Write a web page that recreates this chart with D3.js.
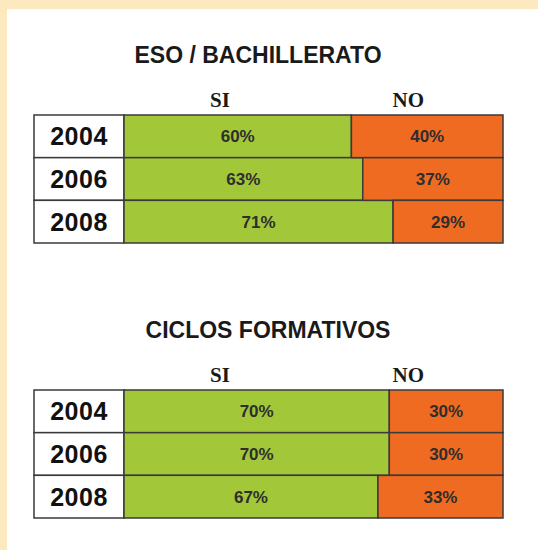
<!DOCTYPE html>
<html>
<head>
<meta charset="utf-8">
<script src="https://cdn.jsdelivr.net/npm/d3@7"></script>
<style>
  body { margin: 0; background: #fde9c0; }
  svg { display: block; }
</style>
</head>
<body>
<div id="chart"></div>
<script>
// data
const years = ['2004', '2006', '2008'];
const esoSi = [60, 63, 71];
const esoNo = [40, 37, 29];
const ciclosSi = [70, 70, 67];
const ciclosNo = [30, 30, 33];
const headers = ['SI', 'NO'];

const width = 538;
const height = 550;

const svg = d3.select('#chart').append('svg')
  .attr('width', width)
  .attr('height', height);

// white panel over the beige page
svg.append('rect')
  .attr('x', 7).attr('y', 9)
  .attr('width', width - 7).attr('height', height - 9)
  .attr('fill', '#ffffff');

// Function to draw one table of stacked bars
function drawTable(title, siValues, noValues, top, titleX, titleY) {
  const labelLeft = 34;
  const barLeft = 124;
  const barRight = 503;
  const tableBottom = top + 128;

  const xScale = d3.scaleLinear().domain([0, 100]).range([barLeft, barRight]);
  const yScale = d3.scaleBand().domain(years).range([top, tableBottom]);

  const g = svg.append('g');

  // title
  g.append('text')
    .attr('x', titleX)
    .attr('y', titleY)
    .attr('text-anchor', 'middle')
    .attr('font-family', 'Liberation Sans, Arial, sans-serif')
    .attr('font-weight', 'bold')
    .attr('font-size', '23px')
    .attr('fill', '#1a1a1a')
    .text(title);

  // SI / NO column headers
  const headerX = [xScale(25.3), xScale(75)];
  g.selectAll('text.header')
    .data(headers)
    .enter()
    .append('text')
    .attr('class', 'header')
    .attr('x', (d, i) => headerX[i])
    .attr('y', top - 8)
    .attr('text-anchor', 'middle')
    .attr('font-family', 'Liberation Serif, Times New Roman, serif')
    .attr('font-weight', 'bold')
    .attr('font-size', '21px')
    .attr('fill', '#1a1a1a')
    .text(d => d);

  const rows = years.map((y, i) => ({ year: y, si: siValues[i], no: noValues[i] }));

  // year cells
  g.selectAll('rect.year')
    .data(rows)
    .enter()
    .append('rect')
    .attr('class', 'year')
    .attr('x', labelLeft)
    .attr('y', d => yScale(d.year))
    .attr('width', barLeft - labelLeft)
    .attr('height', yScale.bandwidth())
    .attr('fill', '#ffffff')
    .attr('stroke', '#3a3a3a')
    .attr('stroke-width', 1.5);

  g.selectAll('text.year')
    .data(rows)
    .enter()
    .append('text')
    .attr('class', 'year')
    .attr('x', (labelLeft + barLeft) / 2)
    .attr('y', d => yScale(d.year) + yScale.bandwidth() / 2 + 9)
    .attr('text-anchor', 'middle')
    .attr('font-family', 'Liberation Sans, Arial, sans-serif')
    .attr('font-weight', 'bold')
    .attr('font-size', '25px')
    .attr('letter-spacing', '0.5px')
    .attr('fill', '#111111')
    .text(d => d.year);

  // SI bars
  g.selectAll('rect.si')
    .data(rows)
    .enter()
    .append('rect')
    .attr('class', 'si')
    .attr('x', xScale(0))
    .attr('y', d => yScale(d.year))
    .attr('width', d => xScale(d.si) - xScale(0))
    .attr('height', yScale.bandwidth())
    .attr('fill', '#a2c739')
    .attr('stroke', '#3a3a3a')
    .attr('stroke-width', 1.5);

  // NO bars
  g.selectAll('rect.no')
    .data(rows)
    .enter()
    .append('rect')
    .attr('class', 'no')
    .attr('x', d => xScale(d.si))
    .attr('y', d => yScale(d.year))
    .attr('width', d => xScale(100) - xScale(d.si))
    .attr('height', yScale.bandwidth())
    .attr('fill', '#f06b22')
    .attr('stroke', '#3a3a3a')
    .attr('stroke-width', 1.5);

  // percent labels
  const labelStyle = sel => sel
    .attr('text-anchor', 'middle')
    .attr('font-family', 'Liberation Sans, Arial, sans-serif')
    .attr('font-weight', 'bold')
    .attr('font-size', '17px')
    .attr('fill', '#2e2e2e');

  g.selectAll('text.si')
    .data(rows)
    .enter()
    .append('text')
    .attr('class', 'si')
    .attr('x', d => (xScale(0) + xScale(d.si)) / 2)
    .attr('y', d => yScale(d.year) + yScale.bandwidth() / 2 + 6)
    .call(labelStyle)
    .text(d => d.si + '%');

  g.selectAll('text.no')
    .data(rows)
    .enter()
    .append('text')
    .attr('class', 'no')
    .attr('x', d => (xScale(d.si) + xScale(100)) / 2)
    .attr('y', d => yScale(d.year) + yScale.bandwidth() / 2 + 6)
    .call(labelStyle)
    .text(d => d.no + '%');
}

drawTable('ESO / BACHILLERATO', esoSi, esoNo, 115, 258, 63);
drawTable('CICLOS FORMATIVOS', ciclosSi, ciclosNo, 390, 268, 338);
</script>
</body>
</html>
